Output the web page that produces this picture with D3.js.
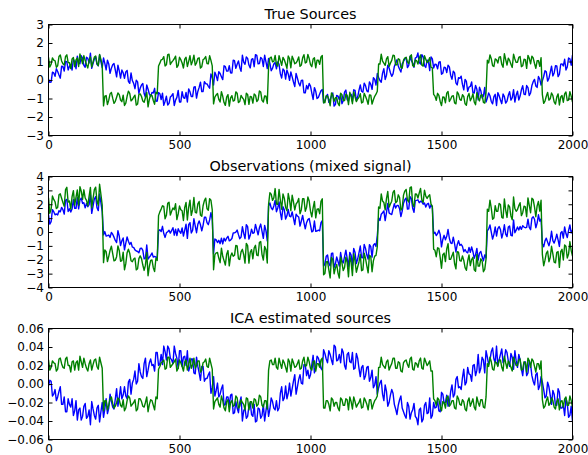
<!DOCTYPE html>
<html>
<head>
<meta charset="utf-8">
<script src="https://cdn.jsdelivr.net/npm/d3@7"></script>
<style>
  body { margin: 0; background: #fff; }
  text { font-family: "DejaVu Sans", sans-serif; fill: #000; }
</style>
</head>
<body>
<script>

// each signal is read at samples 0, 10, 20 ... 2000 and at the midpoints 5, 15 ... 1995
var sampleStep = 10;
var xTicks = [0, 500, 1000, 1500, 2000];
var seriesColors = ["#0000ff", "#008000"];

var panelTitles = ["True Sources", "Observations (mixed signal)", "ICA estimated sources"];
var sourceTicks = [-3, -2, -1, 0, 1, 2, 3];
var mixedTicks = [-4, -3, -2, -1, 0, 1, 2, 3, 4];
var icaTicks = [-0.06, -0.04, -0.02, 0.00, 0.02, 0.04, 0.06];

var sourceSine = [0.05,-0.11,0.38,0.61,0.27,0.74,0.48,0.99,0.74,0.54,0.98,1.29,0.88,1.18,0.69,1.17,1.45,0.89,1.25,0.77,1.00,
  1.19,0.55,0.87,0.64,0.89,0.17,0.50,0.54,0.09,0.52,-0.18,-0.03,-0.47,-0.10,-0.44,-0.19,-0.93,-0.50,-0.89,-0.70,-1.15,
  -0.68,-1.06,-1.37,-0.88,-1.26,-0.85,-1.38,-0.94,-1.19,-0.63,-0.99,-1.19,-0.64,-0.90,-0.36,-0.62,-0.12,-0.62,-0.20,-0.34,0.33,
  -0.27,0.24,0.45,0.18,0.77,0.48,0.77,0.38,1.04,0.85,0.68,1.34,0.85,1.17,0.65,1.15,1.37,0.87,1.22,0.73,0.98,
  1.17,0.50,0.87,0.60,0.85,0.11,0.51,0.54,-0.02,0.17,-0.35,0.10,-0.32,-0.01,-0.69,-0.49,-0.33,-1.05,-0.61,-0.94,-0.58,
  -1.23,-0.90,-1.21,-0.85,-1.41,-0.83,-1.07,-1.28,-0.66,-1.07,-0.81,-1.15,-0.56,-0.92,-0.27,-0.66,-0.30,-0.64,-0.24,0.12,-0.27,
  0.14,-0.12,0.61,0.26,0.65,0.20,0.73,1.09,0.58,0.87,1.14,0.67,1.27,0.93,1.18,1.46,0.87,1.25,0.68,1.04,1.25,
  0.65,0.84,0.96,0.31,0.69,0.40,0.71,0.04,0.38,-0.27,0.09,-0.24,0.03,-0.61,-0.35,-0.68,-0.29,-1.07,-0.58,-0.87,-1.19,
  -0.70,-1.16,-0.90,-1.38,-0.85,-1.28,-0.90,-1.14,-0.63,-0.96,-1.19,-0.60,-0.87,-0.31,-0.79,-0.41,-0.70,-0.09,-0.32,0.19,-0.27,
  0.19,0.44,0.09,0.75,0.38,0.76,0.31,0.87,1.12,0.71,1.14,1.34];
var sourceSineMid = [-0.13,0.42,0.20,0.46,0.10,0.73,1.01,0.54,0.82,1.12,0.61,0.94,1.31,0.79,1.23,0.92,0.63,1.14,0.85,1.36,0.67,
  0.90,1.07,0.36,0.82,0.54,0.80,0.10,0.39,0.44,-0.07,0.38,-0.18,-0.01,-0.72,-0.27,-0.73,-0.27,-0.77,-0.67,-0.45,-1.14,
  -0.74,-0.71,-1.15,-1.35,-0.92,-0.74,-1.09,-0.56,-1.19,-0.95,-0.67,-0.48,-0.89,-0.39,-0.98,-0.40,-0.63,-0.09,-0.21,-0.44,0.14,
  0.42,-0.03,0.35,0.02,0.72,0.48,0.39,1.07,0.63,1.03,0.47,0.96,1.25,0.81,1.11,0.72,1.33,0.89,1.14,1.34,0.62,
  0.90,0.63,0.94,0.98,0.33,0.60,0.05,0.33,0.44,-0.11,0.36,-0.17,-0.02,-0.69,-0.30,-0.19,-0.71,-0.41,-1.00,-0.76,-0.51,
  -1.10,-0.78,-1.06,-0.70,-1.33,-0.87,-0.77,-1.12,-0.54,-1.14,-0.77,-0.53,-1.11,-0.56,-0.61,-0.17,-0.59,-0.10,-0.51,0.04,0.35,
  -0.03,0.37,0.03,0.80,0.39,0.33,0.91,0.76,0.43,1.00,1.22,0.79,1.05,0.69,1.23,0.94,1.37,0.78,1.07,0.51,1.14,
  0.85,0.60,0.99,0.37,0.67,0.80,0.25,0.48,-0.15,0.13,0.21,-0.53,-0.08,-0.38,-0.10,-0.70,-0.50,-0.39,-0.97,-0.40,
  -0.98,-0.85,-1.29,-0.77,-0.68,-1.08,-0.76,-1.25,-0.83,-1.09,-0.52,-0.82,-1.08,-0.53,-0.77,-0.30,-0.84,-0.30,0.03,-0.40,0.05,
  -0.05,0.50,-0.06,0.41,0.22,0.77,0.18,0.85,0.76,0.54,1.19,0.80];

var sourceSquare = [1.22,0.85,1.08,0.69,1.27,1.03,0.81,1.36,0.93,1.14,0.72,1.19,1.41,0.88,1.05,0.65,1.24,0.98,1.30,0.77,1.11,
  -1.40,-0.84,-1.09,-0.67,-1.26,-0.93,-0.79,-1.17,-1.38,-0.88,-0.72,-1.06,-0.82,-1.30,-0.75,-1.14,-0.96,-1.45,-0.80,-1.11,-0.66,
  0.76,1.09,1.26,0.82,1.39,0.96,1.15,0.68,1.23,0.92,1.13,0.73,1.31,1.02,0.80,1.17,0.64,1.10,1.27,0.87,1.06,
  -1.29,-0.81,-1.05,-0.63,-1.22,-0.92,-1.41,-0.85,-1.10,-0.71,-1.16,-0.96,-1.33,-0.78,-0.89,-1.25,-0.82,-1.07,-0.65,-1.19,-0.88,
  0.70,1.24,1.01,0.86,1.32,0.79,1.09,0.63,1.16,1.28,0.88,1.05,0.74,1.20,0.92,1.38,0.83,1.13,0.66,1.07,1.25,
  -1.23,-0.85,-1.06,-0.70,-1.15,-0.96,-1.39,-0.79,-1.11,-0.83,-0.66,-1.28,-0.91,-1.03,-0.74,-1.20,-0.88,-1.31,-0.82,-1.07,-0.77,
  0.87,1.40,0.91,1.14,0.73,1.06,1.31,0.82,1.10,0.64,1.19,0.98,1.28,0.78,1.08,0.86,1.35,0.75,1.12,1.03,0.69,
  -0.78,-1.10,-0.83,-1.38,-0.93,-0.71,-1.16,-0.87,-1.24,-0.64,-1.05,-0.80,-1.29,-0.89,-1.12,-0.74,-1.34,-0.96,-0.82,-1.21,-0.68,
  0.92,1.15,0.73,1.09,1.24,0.85,1.42,0.81,1.06,0.68,1.14,0.96,1.27,0.77,1.10,1.33,0.87,1.19,0.63,1.05,1.21,
  -1.26,-0.88,-1.09,-0.70,-1.18,-0.92,-1.35,-0.84,-0.75,-1.11,-0.63,-1.20];
var sourceSquareMid = [0.70,1.19,1.04,0.77,1.35,0.88,1.27,0.94,0.62,1.21,1.09,0.73,1.14,1.32,0.83,1.06,0.71,1.24,0.90,1.38,0.80,
  -0.87,-1.33,-0.75,-0.98,-1.15,-0.70,-1.08,-0.82,-1.25,-0.60,-1.13,-0.93,-1.36,-0.78,-0.89,-1.20,-0.67,-1.04,-0.84,-1.31,-0.74,
  0.91,1.12,0.76,1.37,0.84,1.05,1.29,0.79,1.10,0.65,1.23,1.01,0.82,1.34,0.93,1.20,0.72,1.15,0.89,1.31,0.76,
  -0.92,-0.73,-1.19,-0.88,-1.37,-0.79,-0.97,-1.14,-0.64,-1.22,-0.83,-1.05,-0.72,-1.32,-0.91,-0.76,-1.16,-0.59,-1.10,-0.86,-1.27,
  1.19,0.98,1.33,0.75,1.06,1.22,0.88,1.30,0.66,1.11,0.92,1.25,0.81,1.37,0.97,1.16,0.72,1.20,1.07,0.85,1.32,
  -1.22,-0.87,-1.39,-0.82,-0.96,-1.26,-0.71,-1.11,-0.77,-1.33,-0.90,-0.65,-1.17,-0.94,-1.24,-0.72,-1.07,-0.81,-1.30,-0.88,-0.61,
  0.86,1.02,0.79,1.26,0.91,1.34,0.82,1.15,0.68,1.08,1.23,0.88,1.36,0.73,1.05,1.17,0.80,1.31,0.94,1.21,0.65,
  -0.87,-0.72,-1.16,-0.91,-1.23,-0.62,-1.04,-0.85,-1.29,-0.76,-1.10,-0.89,-1.36,-0.73,-0.97,-1.19,-0.68,-1.13,-0.80,-1.25,
  1.07,1.36,0.78,1.14,0.92,1.26,0.69,1.10,1.18,0.85,1.39,0.95,1.22,0.72,1.12,0.63,1.17,1.29,0.89,1.04,0.74,
  -0.79,-1.14,-0.67,-1.02,-0.84,-1.30,-0.75,-0.92,-1.20,-0.65,-1.09,-0.87];

var mixedFirst = [1.27,0.74,1.46,1.30,1.54,1.77,1.29,2.35,1.67,1.68,1.70,2.48,2.29,2.06,1.74,1.82,2.69,1.87,2.55,1.54,2.11,
  -0.21,-0.29,-0.22,-0.03,-0.37,-0.76,-0.29,-0.63,-1.29,-0.36,-0.90,-1.09,-1.29,-1.40,-1.19,-1.33,-1.89,-1.95,-1.69,-1.81,-1.81,
  0.08,0.03,-0.11,-0.06,0.13,0.11,-0.23,-0.26,0.04,0.29,0.14,-0.46,0.67,0.12,0.44,0.55,0.52,0.48,1.07,0.53,1.39,
  -1.56,-0.57,-0.60,-0.45,-0.45,-0.44,-0.64,-0.47,-0.06,0.14,-0.48,0.38,-0.48,0.39,-0.24,-0.10,0.55,-0.20,0.57,-0.46,0.10,
  1.87,1.74,1.88,1.46,2.17,0.90,1.60,1.17,1.14,1.45,0.53,1.15,0.42,1.19,0.23,0.89,0.50,0.08,0.05,0.13,0.67,
  -2.46,-1.75,-2.27,-1.55,-2.56,-1.79,-2.46,-2.07,-1.77,-1.90,-1.47,-2.43,-1.47,-1.95,-1.01,-1.86,-1.18,-1.95,-1.06,-0.95,-1.04,
  1.01,1.28,1.52,1.40,1.38,1.26,2.04,1.91,1.68,1.51,2.33,1.65,2.55,1.71,2.26,2.32,2.22,2.00,1.80,2.07,1.94,
  -0.13,-0.26,0.13,-1.07,-0.24,-0.31,-0.45,-0.83,-0.86,-0.91,-0.96,-1.04,-1.26,-1.50,-1.47,-1.42,-1.63,-2.03,-1.40,-2.08,-1.87,
  0.22,-0.01,-0.17,-0.29,0.39,-0.43,0.52,-0.33,0.43,-0.28,-0.05,0.36,0.40,0.46,0.31,0.92,0.17,1.10,0.31,1.24,0.94,
  -1.07,-0.44,-1.00,0.05,-0.80,-0.16,-1.04,0.03,0.37,-0.40,0.51,0.14];
var mixedFirstMid = [0.57,1.61,1.24,1.23,1.45,1.61,2.28,1.48,1.44,2.33,1.70,1.67,2.45,2.11,2.06,1.98,1.34,2.38,1.75,2.74,1.47,
  0.03,-0.26,-0.39,-0.16,-0.61,0.10,-0.98,-0.43,-0.81,-0.67,-0.75,-1.11,-1.37,-1.50,-1.16,-1.93,-0.94,-1.81,-1.51,-1.76,-1.88,
  0.17,0.41,-0.39,0.02,-0.08,0.31,0.20,0.23,-0.09,-0.30,0.56,0.53,-0.07,0.95,-0.05,0.80,0.09,1.06,0.68,0.87,0.90,
  -0.50,-0.76,-0.84,-0.86,-0.65,-0.31,-0.58,-0.07,-0.01,-0.19,-0.36,-0.09,0.53,-0.51,0.20,-0.04,0.17,0.30,0.04,0.48,-0.65,
  2.09,1.61,2.27,1.73,1.39,1.82,0.93,1.63,1.10,1.00,1.28,1.08,0.79,0.68,0.67,0.97,0.01,0.79,0.07,0.09,0.81,
  -2.32,-1.65,-2.45,-1.52,-2.29,-2.13,-1.48,-2.23,-1.31,-2.47,-1.67,-1.18,-2.28,-1.50,-1.85,-0.89,-1.66,-0.91,-1.81,-0.84,-0.26,
  0.83,1.39,0.82,2.06,1.30,1.67,1.73,1.91,1.11,2.08,2.45,1.67,2.41,1.42,2.28,2.11,2.17,2.09,2.01,1.72,1.79,
  -0.02,-0.12,-0.17,-0.54,-0.56,0.18,-0.79,-0.37,-1.44,-0.63,-0.89,-1.42,-1.44,-1.11,-1.07,-1.89,-1.18,-1.52,-1.77,-1.65,
  0.09,0.51,-0.51,0.37,0.24,0.18,-0.07,-0.15,0.35,-0.24,0.87,0.13,0.14,0.19,0.35,0.33,0.33,0.99,0.92,0.64,0.79,
  -0.84,-0.64,-0.73,-0.61,-0.62,-0.53,-0.57,-0.07,-0.44,-0.11,0.10,-0.07];

var mixedSecond = [2.47,1.65,2.35,1.69,2.68,2.43,1.86,3.22,2.23,2.55,1.93,3.03,3.26,2.35,2.45,1.89,3.21,2.41,3.23,1.93,2.72,
  -2.21,-1.41,-1.75,-1.02,-2.08,-1.78,-1.33,-2.07,-2.72,-1.50,-1.53,-2.14,-1.88,-2.65,-1.72,-2.38,-2.39,-3.15,-2.05,-2.57,-1.90,
  1.18,1.65,1.84,1.20,2.15,1.50,1.61,0.89,1.87,1.53,1.77,0.87,2.30,1.59,1.42,2.03,1.22,1.89,2.44,1.57,2.29,
  -2.72,-1.50,-1.88,-1.17,-2.06,-1.60,-2.44,-1.51,-1.68,-1.00,-1.98,-1.25,-2.24,-0.98,-1.46,-1.93,-0.96,-1.71,-0.69,-2.02,-1.27,
  1.99,2.73,2.46,2.02,3.07,1.64,2.44,1.53,2.31,2.65,1.59,2.15,1.32,2.40,1.50,2.52,1.50,1.74,1.02,1.67,2.21,
  -3.08,-2.15,-2.73,-1.83,-3.01,-2.34,-3.32,-2.22,-2.55,-2.20,-1.73,-3.14,-2.10,-2.52,-1.62,-2.73,-1.91,-2.94,-1.76,-2.08,-1.68,
  1.81,2.74,2.13,2.41,1.79,2.22,2.99,2.19,2.49,1.72,2.95,2.30,3.20,2.03,2.75,2.45,3.14,2.13,2.58,2.58,2.01,
  -1.24,-1.78,-1.18,-2.61,-1.52,-1.22,-1.97,-1.72,-2.29,-1.42,-2.06,-1.72,-2.57,-2.09,-2.42,-1.82,-2.83,-2.46,-1.93,-2.86,-1.96,
  1.49,1.72,1.01,1.49,2.06,1.06,2.39,1.05,1.81,0.88,1.69,1.62,2.11,1.39,1.81,2.46,1.39,2.34,1.10,2.20,2.29,
  -2.43,-1.54,-2.14,-1.03,-2.17,-1.46,-2.55,-1.25,-0.94,-1.87,-0.69,-1.73];
var mixedSecondMid = [1.34,2.59,2.18,1.77,2.75,2.13,3.05,2.15,1.65,2.98,2.49,1.93,2.94,3.04,2.28,2.58,1.74,3.05,2.23,3.44,1.94,
  -1.29,-2.13,-1.32,-1.55,-2.03,-1.00,-2.11,-1.45,-2.28,-1.24,-2.07,-1.95,-2.73,-1.92,-1.92,-2.77,-1.48,-2.47,-2.02,-2.85,-2.05,
  1.45,1.89,0.95,2.07,1.22,1.73,2.04,1.30,1.61,0.83,2.13,1.78,1.20,2.49,1.37,2.20,1.13,2.26,1.68,2.40,1.59,
  -1.63,-1.48,-2.21,-1.75,-2.38,-1.34,-1.75,-1.75,-0.97,-1.93,-1.43,-1.62,-0.82,-2.24,-1.27,-1.16,-1.66,-0.74,-1.63,-1.05,-2.23,
  2.83,2.28,3.13,1.99,2.29,2.74,1.79,2.77,1.54,2.17,2.02,2.42,1.61,2.40,1.79,2.23,1.09,2.20,1.64,1.32,2.39,
  -2.99,-2.13,-3.31,-1.99,-2.59,-2.96,-1.81,-2.78,-1.81,-3.23,-2.19,-1.57,-2.90,-2.16,-2.79,-1.53,-2.44,-1.67,-2.86,-1.74,-1.05,
  1.71,2.23,1.60,2.92,2.02,2.85,2.10,2.68,1.58,2.66,3.07,2.16,3.25,1.81,2.72,2.81,2.29,3.01,2.42,2.68,1.87,
  -1.32,-1.14,-1.83,-1.64,-2.13,-0.84,-1.96,-1.46,-2.66,-1.46,-2.10,-2.05,-2.76,-1.65,-1.99,-2.73,-1.61,-2.46,-2.09,-2.70,
  1.65,2.30,0.92,1.90,1.50,1.98,1.00,1.58,1.95,1.16,2.52,1.49,1.90,1.18,1.86,1.11,1.92,2.43,1.80,1.88,1.51,
  -1.61,-2.03,-1.37,-1.84,-1.57,-2.22,-1.41,-1.42,-2.02,-1.03,-1.59,-1.34];

var icaFirst = [-0.002,0.003,-0.011,-0.018,-0.008,-0.022,-0.014,-0.030,-0.022,-0.016,-0.029,-0.039,-0.026,-0.035,-0.021,-0.035,-0.044,-0.027,-0.038,-0.023,-0.030,
  -0.036,-0.016,-0.026,-0.019,-0.027,-0.005,-0.015,-0.016,-0.003,-0.016,0.005,0.001,0.014,0.003,0.013,0.006,0.028,0.015,0.027,0.021,0.034,
  0.020,0.032,0.041,0.026,0.038,0.026,0.041,0.028,0.036,0.019,0.030,0.036,0.019,0.027,0.011,0.019,0.004,0.019,0.006,0.010,-0.010,
  0.008,-0.007,-0.014,-0.005,-0.023,-0.014,-0.023,-0.011,-0.031,-0.026,-0.020,-0.040,-0.026,-0.035,-0.020,-0.035,-0.041,-0.026,-0.037,-0.022,-0.029,
  -0.035,-0.015,-0.026,-0.018,-0.026,-0.003,-0.015,-0.016,0.001,-0.005,0.010,-0.003,0.010,0.000,0.021,0.015,0.010,0.031,0.018,0.028,0.017,
  0.037,0.027,0.036,0.026,0.042,0.025,0.032,0.038,0.020,0.032,0.024,0.034,0.017,0.028,0.008,0.020,0.009,0.019,0.007,-0.004,0.008,
  -0.004,0.004,-0.018,-0.008,-0.020,-0.006,-0.022,-0.033,-0.017,-0.026,-0.034,-0.020,-0.038,-0.028,-0.035,-0.044,-0.026,-0.038,-0.020,-0.031,-0.037,
  -0.020,-0.025,-0.029,-0.009,-0.021,-0.012,-0.021,-0.001,-0.011,0.008,-0.003,0.007,-0.001,0.018,0.010,0.020,0.009,0.032,0.017,0.026,0.036,
  0.021,0.035,0.027,0.041,0.026,0.038,0.027,0.034,0.019,0.029,0.036,0.018,0.026,0.009,0.024,0.012,0.021,0.003,0.010,-0.006,0.008,
  -0.006,-0.013,-0.003,-0.022,-0.011,-0.023,-0.009,-0.026,-0.034,-0.021,-0.034,-0.040];
var icaFirstMid = [0.004,-0.013,-0.006,-0.014,-0.003,-0.022,-0.030,-0.016,-0.025,-0.034,-0.018,-0.028,-0.039,-0.024,-0.037,-0.028,-0.019,-0.034,-0.026,-0.041,-0.020,
  -0.027,-0.032,-0.011,-0.025,-0.016,-0.024,-0.003,-0.012,-0.013,0.002,-0.011,0.005,0.000,0.022,0.008,0.022,0.008,0.023,0.020,0.014,0.034,
  0.022,0.021,0.035,0.041,0.028,0.022,0.033,0.017,0.036,0.029,0.020,0.014,0.027,0.012,0.029,0.012,0.019,0.003,0.006,0.013,-0.004,
  -0.013,0.001,-0.011,-0.001,-0.022,-0.014,-0.012,-0.032,-0.019,-0.031,-0.014,-0.029,-0.037,-0.024,-0.033,-0.022,-0.040,-0.027,-0.034,-0.040,-0.019,
  -0.027,-0.019,-0.028,-0.029,-0.010,-0.018,-0.002,-0.010,-0.013,0.003,-0.011,0.005,0.001,0.021,0.009,0.006,0.021,0.012,0.030,0.023,0.015,
  0.033,0.023,0.032,0.021,0.040,0.026,0.023,0.034,0.016,0.034,0.023,0.016,0.033,0.017,0.018,0.005,0.018,0.003,0.015,-0.001,-0.011,
  0.001,-0.011,-0.001,-0.024,-0.012,-0.010,-0.027,-0.023,-0.013,-0.030,-0.037,-0.024,-0.031,-0.021,-0.037,-0.028,-0.041,-0.023,-0.032,-0.015,-0.034,
  -0.026,-0.018,-0.030,-0.011,-0.020,-0.024,-0.008,-0.014,0.005,-0.004,-0.006,0.016,0.002,0.011,0.003,0.021,0.015,0.012,0.029,0.012,
  0.029,0.026,0.039,0.023,0.020,0.032,0.023,0.037,0.025,0.033,0.016,0.025,0.032,0.016,0.023,0.009,0.025,0.009,-0.001,0.012,-0.002,
  0.002,-0.015,0.002,-0.012,-0.007,-0.023,-0.005,-0.026,-0.023,-0.016,-0.036,-0.024];

var icaSecond = [0.026,0.018,0.023,0.014,0.027,0.022,0.017,0.029,0.020,0.024,0.015,0.025,0.030,0.018,0.022,0.014,0.026,0.021,0.027,0.016,0.023,
  -0.029,-0.018,-0.023,-0.014,-0.026,-0.020,-0.017,-0.025,-0.029,-0.018,-0.015,-0.022,-0.017,-0.027,-0.016,-0.024,-0.020,-0.030,-0.017,-0.023,-0.014,
  0.016,0.023,0.026,0.017,0.029,0.020,0.024,0.014,0.026,0.019,0.024,0.015,0.028,0.021,0.017,0.025,0.013,0.023,0.027,0.018,0.022,
  -0.027,-0.017,-0.022,-0.013,-0.026,-0.019,-0.030,-0.018,-0.023,-0.015,-0.024,-0.020,-0.028,-0.016,-0.019,-0.026,-0.017,-0.022,-0.014,-0.025,-0.018,
  0.015,0.026,0.021,0.018,0.028,0.017,0.023,0.013,0.024,0.027,0.018,0.022,0.016,0.025,0.019,0.029,0.017,0.024,0.014,0.022,0.026,
  -0.026,-0.018,-0.022,-0.015,-0.024,-0.020,-0.029,-0.017,-0.023,-0.017,-0.014,-0.027,-0.019,-0.022,-0.016,-0.025,-0.018,-0.028,-0.017,-0.022,-0.016,
  0.018,0.029,0.019,0.024,0.015,0.022,0.028,0.017,0.023,0.013,0.025,0.021,0.027,0.016,0.023,0.018,0.028,0.016,0.024,0.022,0.014,
  -0.016,-0.023,-0.017,-0.029,-0.020,-0.015,-0.024,-0.018,-0.026,-0.013,-0.022,-0.017,-0.027,-0.019,-0.024,-0.016,-0.028,-0.020,-0.017,-0.025,-0.014,
  0.019,0.024,0.015,0.023,0.026,0.018,0.030,0.017,0.022,0.014,0.024,0.020,0.027,0.016,0.023,0.028,0.018,0.025,0.013,0.022,0.025,
  -0.026,-0.018,-0.023,-0.015,-0.025,-0.019,-0.028,-0.018,-0.016,-0.023,-0.013,-0.025];
var icaSecondMid = [0.015,0.025,0.022,0.016,0.028,0.018,0.027,0.020,0.013,0.025,0.023,0.015,0.024,0.028,0.017,0.022,0.015,0.026,0.019,0.029,0.017,
  -0.018,-0.028,-0.016,-0.021,-0.024,-0.015,-0.023,-0.017,-0.026,-0.013,-0.024,-0.020,-0.029,-0.016,-0.019,-0.025,-0.014,-0.022,-0.018,-0.028,-0.016,
  0.019,0.024,0.016,0.029,0.018,0.022,0.027,0.017,0.023,0.014,0.026,0.021,0.017,0.028,0.020,0.025,0.015,0.024,0.019,0.028,0.016,
  -0.019,-0.015,-0.025,-0.018,-0.029,-0.017,-0.020,-0.024,-0.013,-0.026,-0.017,-0.022,-0.015,-0.028,-0.019,-0.016,-0.024,-0.012,-0.023,-0.018,-0.027,
  0.025,0.021,0.028,0.016,0.022,0.026,0.018,0.027,0.014,0.023,0.019,0.026,0.017,0.029,0.020,0.024,0.015,0.025,0.022,0.018,0.028,
  -0.026,-0.018,-0.029,-0.017,-0.020,-0.026,-0.015,-0.023,-0.016,-0.028,-0.019,-0.014,-0.025,-0.020,-0.026,-0.015,-0.022,-0.017,-0.027,-0.018,-0.013,
  0.018,0.021,0.017,0.026,0.019,0.028,0.017,0.024,0.014,0.023,0.026,0.018,0.029,0.015,0.022,0.025,0.017,0.028,0.020,0.025,0.014,
  -0.018,-0.015,-0.024,-0.019,-0.026,-0.013,-0.022,-0.018,-0.027,-0.016,-0.023,-0.019,-0.029,-0.015,-0.020,-0.025,-0.014,-0.024,-0.017,-0.026,
  0.022,0.029,0.016,0.024,0.019,0.026,0.014,0.023,0.025,0.018,0.029,0.020,0.026,0.015,0.024,0.013,0.025,0.027,0.019,0.022,0.016,
  -0.017,-0.024,-0.014,-0.021,-0.018,-0.027,-0.016,-0.019,-0.025,-0.014,-0.023,-0.018];

var panels = [
  { title: panelTitles[0], ticks: sourceTicks, format: d3.format("d"),
    series: [[sourceSine, sourceSineMid], [sourceSquare, sourceSquareMid]] },
  { title: panelTitles[1], ticks: mixedTicks, format: d3.format("d"),
    series: [[mixedFirst, mixedFirstMid], [mixedSecond, mixedSecondMid]] },
  { title: panelTitles[2], ticks: icaTicks, format: d3.format(".2f"),
    series: [[icaFirst, icaFirstMid], [icaSecond, icaSecondMid]] }
];

var width = 588,
    height = 455,
    margin = {left: 48.5, right: 15.5},
    plotTops = [24.5, 176.5, 328.5],
    plotHeight = 111,
    tickLen = 4;

var svg = d3.select("body").append("svg")
    .attr("width", width)
    .attr("height", height);

var x = d3.scaleLinear()
    .domain([0, 2000])
    .range([margin.left, width - margin.right]);

// put the on-grid and midpoint readings back into sample order
function samples(pair) {
    var pts = [];
    pair[0].forEach(function(v, i) { pts.push([i * sampleStep, v]); });
    pair[1].forEach(function(v, i) { pts.push([i * sampleStep + sampleStep / 2, v]); });
    return pts.sort(function(a, b) { return a[0] - b[0]; });
}

panels.forEach(function(p, k) {
    var top = plotTops[k],
        bottom = top + plotHeight;

    var y = d3.scaleLinear()
        .domain(d3.extent(p.ticks))
        .range([bottom, top]);

    var g = svg.append("g").attr("class", "panel");

    g.append("clipPath")
            .attr("id", "clip" + k)
        .append("rect")
            .attr("x", x.range()[0])
            .attr("y", top)
            .attr("width", x.range()[1] - x.range()[0])
            .attr("height", plotHeight);

    var line = d3.line()
        .x(function(d) { return x(d[0]); })
        .y(function(d) { return y(d[1]); });

    // blue first, green drawn over it
    p.series.forEach(function(pair, s) {
        g.append("path")
            .datum(samples(pair))
            .attr("clip-path", "url(#clip" + k + ")")
            .attr("fill", "none")
            .attr("stroke", seriesColors[s])
            .attr("stroke-width", 1.4)
            .attr("stroke-linejoin", "round")
            .attr("d", line);
    });

    // ticks point inwards on all four sides
    g.append("g")
            .attr("transform", "translate(0," + bottom + ")")
            .call(d3.axisBottom(x).tickValues(xTicks).tickFormat(d3.format("d"))
                .tickSizeInner(-tickLen).tickSizeOuter(0).tickPadding(5));
    g.append("g")
            .attr("transform", "translate(0," + top + ")")
            .call(d3.axisTop(x).tickValues(xTicks).tickSizeInner(-tickLen).tickSizeOuter(0).tickFormat(""));
    g.append("g")
            .attr("transform", "translate(" + x.range()[0] + ",0)")
            .call(d3.axisLeft(y).tickValues(p.ticks).tickFormat(p.format)
                .tickSizeInner(-tickLen).tickSizeOuter(0).tickPadding(4.5));
    g.append("g")
            .attr("transform", "translate(" + x.range()[1] + ",0)")
            .call(d3.axisRight(y).tickValues(p.ticks).tickSizeInner(-tickLen).tickSizeOuter(0).tickFormat(""));

    g.selectAll(".domain").remove();
    g.selectAll(".tick line").attr("stroke", "#000");
    g.selectAll(".tick text")
        .attr("fill", "#000")
        .style("font-family", "DejaVu Sans")
        .style("font-size", "12px");

    g.append("rect")
        .attr("x", x.range()[0])
        .attr("y", top)
        .attr("width", x.range()[1] - x.range()[0])
        .attr("height", plotHeight)
        .attr("fill", "none")
        .attr("stroke", "#000")
        .attr("stroke-width", 1);

    g.append("text")
        .attr("x", (x.range()[0] + x.range()[1]) / 2)
        .attr("y", top - 6)
        .attr("text-anchor", "middle")
        .style("font-size", "14.4px")
        .text(p.title);
});

</script>
</body>
</html>
